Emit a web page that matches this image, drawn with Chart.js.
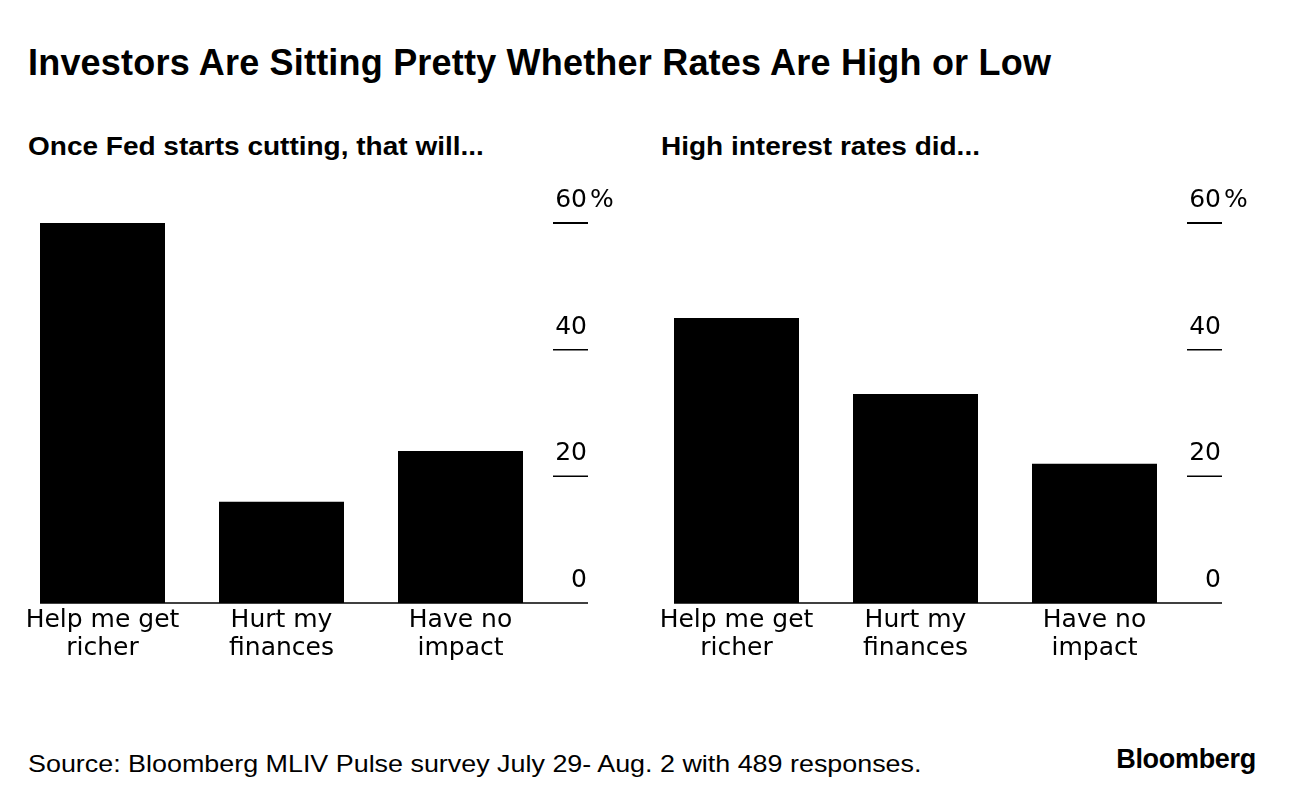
<!DOCTYPE html>
<html>
<head>
<meta charset="utf-8">
<script src="https://cdn.jsdelivr.net/npm/chart.js@4.4.1/dist/chart.umd.min.js"></script>
<style>
  body { margin: 0; width: 1296px; height: 804px; background: #fff; position: relative; overflow: hidden; }
  .txt { position: absolute; color: #000; white-space: nowrap; line-height: 1; }
  #title { left: 28px; top: 42px; font: bold 36px "Liberation Sans", Arial, sans-serif; letter-spacing: 0.2px; }
  .sub { top: 132px; font: bold 25px "Liberation Sans", Arial, sans-serif; transform: scaleX(1.12); transform-origin: left top; }
  #source { left: 28px; top: 750px; font: 24px "Liberation Sans", Arial, sans-serif; transform: scaleX(1.12); transform-origin: left top; }
  #logo { right: 40px; top: 744px; font: bold 27px "Liberation Sans", Arial, sans-serif; letter-spacing: -0.3px; }
  .panel { position: absolute; top: 180px; width: 634px; height: 500px; }
</style>
</head>
<body>
<div id="title" class="txt">Investors Are Sitting Pretty Whether Rates Are High or Low</div>
<div class="txt sub" style="left:28px">Once Fed starts cutting, that will...</div>
<div class="txt sub" style="left:661px">High interest rates did...</div>
<div class="panel" style="left:0"><canvas id="cut"></canvas></div>
<div class="panel" style="left:634px"><canvas id="high"></canvas></div>
<div id="source" class="txt">Source: Bloomberg MLIV Pulse survey July 29- Aug. 2 with 489 responses.</div>
<div id="logo" class="txt">Bloomberg</div>

<script>
// 설문 항목
const categories = [["Help me get", "richer"], ["Hurt my", "finances"], ["Have no", "impact"]];
// 금리 인하 시 (%)
const cutValues = [60, 16, 24];
// 고금리 때 (%)
const highValues = [45, 33, 22];
// y축 눈금
const yTicks = [0, 20, 40, 60];

const tickFont = '25px "DejaVu Sans", sans-serif';

// 오른쪽 눈금선 + 라벨, 바닥선 직접 그리기
const rightAxis = {
  id: "rightAxis",
  afterDraw(chart) {
    const { ctx, chartArea, scales } = chart;
    const y = scales.y;
    const meta = chart.getDatasetMeta(0);
    const bar0 = meta.data[0];
    const left = bar0.x - bar0.width / 2;
    const end = chartArea.right + 38;
    ctx.save();
    ctx.strokeStyle = "#000";
    ctx.fillStyle = "#000";
    // 바닥선
    ctx.lineWidth = 1.5;
    ctx.beginPath();
    ctx.moveTo(left, y.getPixelForValue(0));
    ctx.lineTo(end, y.getPixelForValue(0));
    ctx.stroke();
    ctx.font = tickFont;
    ctx.textBaseline = "alphabetic";
    yTicks.forEach(v => {
      const py = y.getPixelForValue(v);
      if (v !== 0) {
        ctx.lineWidth = v === 60 ? 2 : 1.5;
        ctx.beginPath();
        ctx.moveTo(chartArea.right + 3, py);
        ctx.lineTo(end, py);
        ctx.stroke();
      }
      ctx.textAlign = "right";
      ctx.fillText(String(v), end - 1, py - 16);
      if (v === 60) {
        ctx.textAlign = "left";
        ctx.fillText("%", end + 2, py - 16);
      }
    });
    ctx.restore();
  }
};

function makeChart(id, values) {
  return new Chart(document.getElementById(id), {
    type: "bar",
    data: {
      labels: categories,
      datasets: [{
        data: values,
        backgroundColor: "#000",
        barPercentage: 125 / 179,
        categoryPercentage: 1
      }]
    },
    options: {
      responsive: true,
      maintainAspectRatio: false,
      animation: false,
      layout: { padding: { left: 13, right: 84, top: 43, bottom: 0 } },
      plugins: { legend: { display: false }, tooltip: { enabled: false } },
      scales: {
        x: {
          grid: { display: false, drawTicks: false },
          border: { display: false },
          ticks: {
            color: "#000",
            font: { family: "DejaVu Sans", size: 25, lineHeight: 1.12 },
            padding: 3,
            maxRotation: 0,
            autoSkip: false
          },
          afterFit: s => { s.height = 77; }
        },
        y: { display: false, min: 0, max: 60 }
      }
    },
    plugins: [rightAxis]
  });
}

makeChart("cut", cutValues);
makeChart("high", highValues);
</script>
</body>
</html>
